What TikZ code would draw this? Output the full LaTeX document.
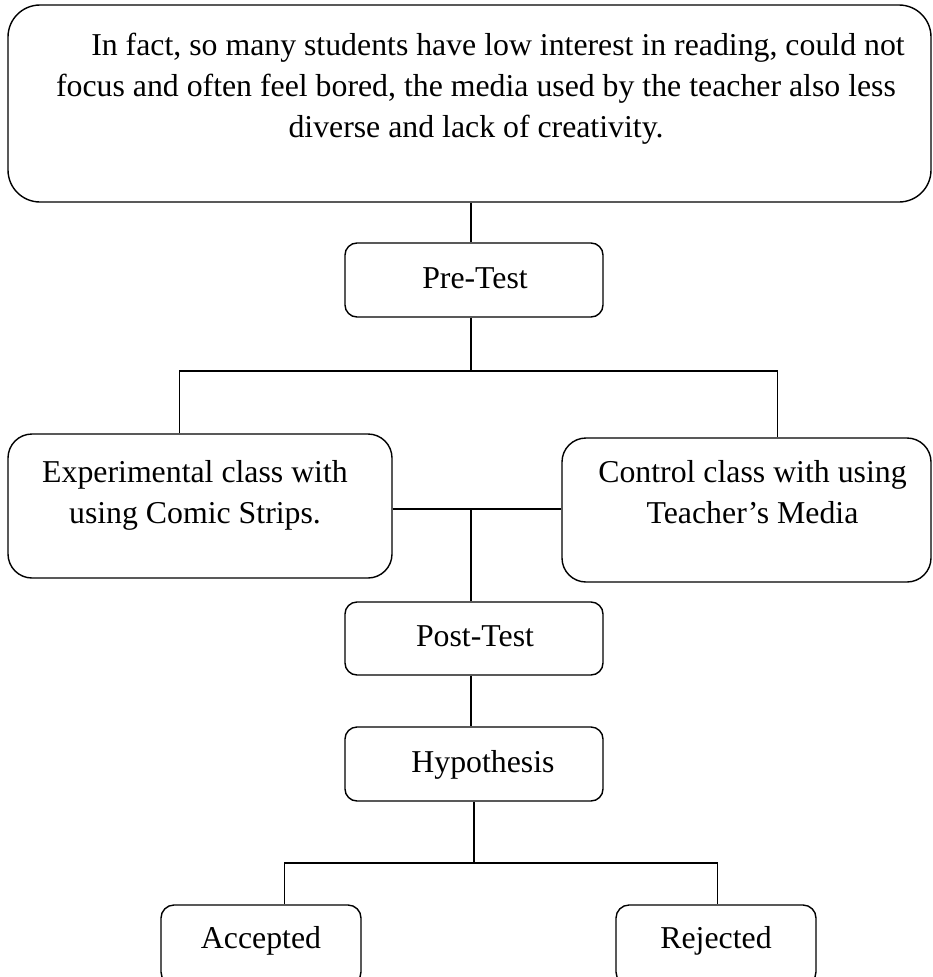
\documentclass[tikz,border=0pt]{standalone}
\usepackage{fontspec}
\setmainfont{Liberation Serif}
\begin{document}
\begin{tikzpicture}[x=1pt,y=-1pt,
  box/.style={draw, line width=1.4pt, inner sep=0pt, rectangle},
  txt/.style={inner sep=0pt, anchor=base, font=\fontsize{31.8}{41}\selectfont},
  conn/.style={line width=1.4pt}]
\useasboundingbox (0,0) rectangle (933,977);
\clip (0,0) rectangle (933,977);

% boxes
\node[box, rounded corners=32pt, minimum width=923pt, minimum height=197pt] (top) at (469.5,103.5) {};
\node[box, rounded corners=12pt, minimum width=258pt, minimum height=74pt] (pre) at (474,280) {};
\node[box, rounded corners=24pt, minimum width=384pt, minimum height=144pt] (exp) at (200,506) {};
\node[box, rounded corners=24pt, minimum width=369pt, minimum height=144pt] (ctl) at (746.5,510) {};
\node[box, rounded corners=12pt, minimum width=258pt, minimum height=73pt] (post) at (474,638.5) {};
\node[box, rounded corners=12pt, minimum width=258pt, minimum height=74pt] (hyp) at (474,764) {};
\node[box, rounded corners=13pt, minimum width=200pt, minimum height=80pt] (acc) at (261,945) {};
\node[box, rounded corners=13pt, minimum width=200pt, minimum height=80pt] (rej) at (716,945) {};

% texts
\node[txt] (toptext) at (476,55) {\begin{tabular}[t]{@{}c@{}}\hspace*{44pt}In fact, so many students have low interest in reading, could not\\ focus and often feel bored, the media used by the teacher also less\\ diverse and lack of creativity.\end{tabular}};
\node[txt] (pretext) at (475,288) {Pre-Test};
\node[txt] (exptext) at (195,482) {\begin{tabular}[t]{@{}c@{}}Experimental class with\\ using Comic Strips.\end{tabular}};
\node[txt] (ctltext) at (752.5,482) {\begin{tabular}[t]{@{}c@{}}Control class with using\\ Teacher’s Media\end{tabular}};
\node[txt] (posttext) at (475,646) {Post-Test};
\node[txt] (hyptext) at (483,772) {Hypothesis};
\node[txt] (acctext) at (261,948) {Accepted};
\node[txt] (rejtext) at (716,948) {Rejected};

% connectors
\coordinate (j1) at (471,371);
\coordinate (j2) at (471,509);
\coordinate (j3) at (474,863);
\draw[conn] (top.south -| j1) -- (pre.north -| j1);
\draw[conn] (pre.south -| j1) -- (j1);
\draw[conn] ([xshift=172pt]exp.north west) |- (j1) -| ([xshift=216pt]ctl.north west);
\draw[conn] (exp.east |- j2) -- (ctl.west |- j2);
\draw[conn] (j2) -- (post.north -| j2);
\draw[conn] (post.south -| j2) -- (hyp.north -| j2);
\draw[conn] (hyp.south -| j3) -- (j3);
\draw[conn] ([xshift=124pt]acc.north west) |- (j3) -| ([xshift=102pt]rej.north west);
\end{tikzpicture}
\end{document}
